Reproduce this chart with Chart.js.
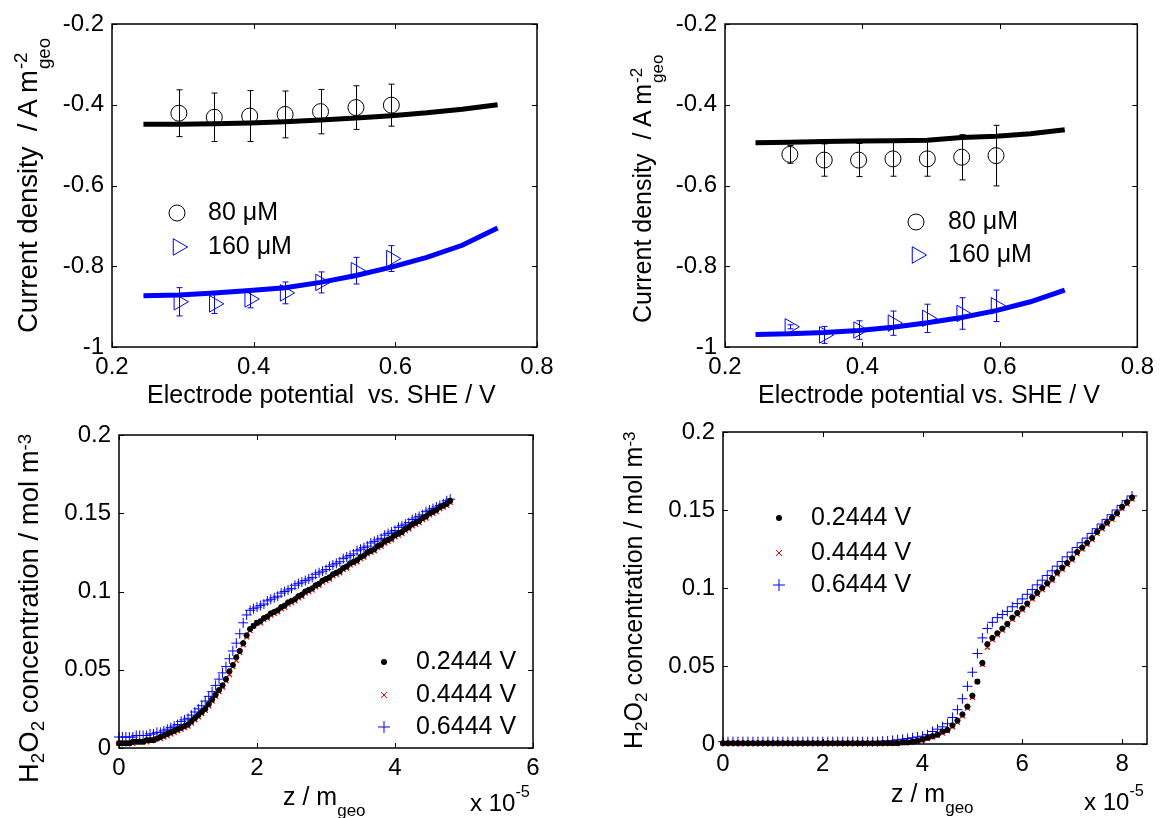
<!DOCTYPE html>
<html>
<head>
<meta charset="utf-8">
<script src="https://cdn.jsdelivr.net/npm/chart.js@4.4.1/dist/chart.umd.min.js"></script>
<style>
  body { margin: 0; background: #fff; width: 1160px; height: 818px; position: relative; overflow: hidden;
         font-family: "Liberation Sans", Arial, Helvetica, sans-serif; color: #000; }
  canvas { position: absolute; }
  .t { position: absolute; font-size: 25px; line-height: 1; white-space: nowrap; }
  .ty { transform-origin: 0 0; transform: rotate(-90deg); }
  .t sub { font-size: 0.68em; line-height: 0; vertical-align: -0.32em; }
  .t sup { font-size: 0.68em; line-height: 0; vertical-align: 0.4em; }
  .ss { position: relative; display: inline-block; width: 1.1em; height: 0; }
  .ss span { position: absolute; left: 1px; font-size: 0.68em; line-height: 1; }
  .ss .up { top: -1.35em; }
  .ss .dn { top: -0.12em; }
</style>
</head>
<body>
<canvas id="tl" width="580" height="400" style="left:0;top:0"></canvas>
<canvas id="tr" width="580" height="400" style="left:580px;top:0"></canvas>
<canvas id="bl" width="580" height="418" style="left:0;top:400px"></canvas>
<canvas id="br" width="580" height="418" style="left:580px;top:400px"></canvas>

<div class="t" style="left:147px;top:382px">Electrode potential&nbsp; vs. SHE / V</div>
<div class="t" style="left:758px;top:382px">Electrode potential vs. SHE / V</div>
<div class="t ty" style="left:14px;top:333px;font-size:27.5px">Current density&nbsp; / A m<span class="ss"><span class="up">-2</span><span class="dn">geo</span></span></div>
<div class="t ty" style="left:630px;top:323px">Current density&nbsp; / A m<span class="ss"><span class="up">-2</span><span class="dn">geo</span></span></div>
<div class="t ty" style="left:15px;top:783px;font-size:27.5px">H<sub>2</sub>O<sub>2</sub> concentration / mol m<sup>-3</sup></div>
<div class="t ty" style="left:621px;top:749px">H<sub>2</sub>O<sub>2</sub> concentration / mol m<sup>-3</sup></div>
<div class="t" style="left:283px;top:784px">z / m<sub style="vertical-align:-11px">geo</sub></div>
<div class="t" style="left:470px;top:791px;font-size:24px">x 10<sup style="vertical-align:14px">-5</sup></div>
<div class="t" style="left:891px;top:781px">z / m<sub style="vertical-align:-11px">geo</sub></div>
<div class="t" style="left:1084px;top:790px;font-size:24px">x 10<sup style="vertical-align:14px">-5</sup></div>

<script>
// ---- data ----
// electrode potentials (V vs. SHE)
const vExp  = [0.2944, 0.3444, 0.3944, 0.4444, 0.4944, 0.5444, 0.5944];
const vSimA = [0.2444, 0.2944, 0.3444, 0.3944, 0.4444, 0.4944, 0.5444, 0.5944, 0.6444, 0.6944, 0.7444];
const vSimB = [0.2444, 0.2944, 0.3444, 0.3944, 0.4444, 0.4944, 0.5444, 0.5944, 0.6444, 0.6944];

// top-left: current density (A m-2), measured + simulated
const tl80      = [-0.421, -0.431, -0.428, -0.424, -0.417, -0.407, -0.401];
const tl80Err   = [0.058, 0.060, 0.063, 0.058, 0.055, 0.054, 0.052];
const tl160     = [-0.888, -0.893, -0.881, -0.866, -0.840, -0.811, -0.781];
const tl160Err  = [0.035, 0.024, 0.022, 0.027, 0.026, 0.033, 0.032];
const tl80Sim   = [-0.448, -0.448, -0.447, -0.445, -0.442, -0.438, -0.433, -0.427, -0.420, -0.411, -0.400];
const tl160Sim  = [-0.873, -0.871, -0.866, -0.860, -0.853, -0.840, -0.823, -0.802, -0.778, -0.748, -0.705];

// top-right
const tr80      = [-0.523, -0.537, -0.537, -0.534, -0.534, -0.530, -0.526];
const tr80Err   = [0.022, 0.040, 0.041, 0.043, 0.043, 0.056, 0.075];
const tr160     = [-0.950, -0.970, -0.958, -0.941, -0.929, -0.917, -0.898];
const tr160Err  = [0.005, 0.021, 0.023, 0.030, 0.035, 0.039, 0.039];
const tr80Sim   = [-0.494, -0.493, -0.491, -0.490, -0.489, -0.488, -0.481, -0.478, -0.472, -0.462];
const tr160Sim  = [-0.969, -0.967, -0.964, -0.959, -0.951, -0.940, -0.927, -0.910, -0.888, -0.859];

// bottom-left: H2O2 concentration (mol m-3) vs z (x 1e-5 m)
const zBL = [0, 0.05, 0.1, 0.15, 0.2, 0.25, 0.3, 0.35, 0.4, 0.45,
             0.5, 0.55, 0.6, 0.65, 0.7, 0.75, 0.8, 0.85, 0.9, 0.95,
             1.0, 1.05, 1.1, 1.15, 1.2, 1.25, 1.3, 1.35, 1.4, 1.45,
             1.5, 1.55, 1.6, 1.65, 1.7, 1.75, 1.8, 1.85, 1.9, 1.95,
             2.0, 2.05, 2.1, 2.15, 2.2, 2.25, 2.3, 2.35, 2.4, 2.45,
             2.5, 2.55, 2.6, 2.65, 2.7, 2.75, 2.8, 2.85, 2.9, 2.95,
             3.0, 3.05, 3.1, 3.15, 3.2, 3.25, 3.3, 3.35, 3.4, 3.45,
             3.5, 3.55, 3.6, 3.65, 3.7, 3.75, 3.8, 3.85, 3.9, 3.95,
             4.0, 4.05, 4.1, 4.15, 4.2, 4.25, 4.3, 4.35, 4.4, 4.45,
             4.5, 4.55, 4.6, 4.65, 4.7, 4.75, 4.8];
const blV02 = [0.003, 0.003, 0.003, 0.003, 0.004, 0.004, 0.004, 0.004, 0.005, 0.005,
               0.005, 0.006, 0.007, 0.008, 0.009, 0.010, 0.011, 0.012, 0.013, 0.014,
               0.015, 0.017, 0.019, 0.021, 0.023, 0.025, 0.028, 0.031, 0.034, 0.037,
               0.040, 0.044, 0.049, 0.053, 0.058, 0.062, 0.067, 0.072, 0.076, 0.078,
               0.080, 0.081, 0.083, 0.084, 0.086, 0.087, 0.088, 0.090, 0.091, 0.093,
               0.094, 0.095, 0.097, 0.098, 0.100, 0.101, 0.102, 0.104, 0.105, 0.107,
               0.108, 0.109, 0.111, 0.112, 0.113, 0.115, 0.116, 0.118, 0.119, 0.120,
               0.122, 0.123, 0.125, 0.126, 0.127, 0.129, 0.130, 0.132, 0.133, 0.134,
               0.136, 0.137, 0.138, 0.140, 0.141, 0.143, 0.144, 0.145, 0.147, 0.148,
               0.150, 0.151, 0.152, 0.154, 0.155, 0.156, 0.158];
const blV04 = [0.003, 0.003, 0.003, 0.003, 0.003, 0.004, 0.004, 0.004, 0.004, 0.005,
               0.005, 0.006, 0.006, 0.007, 0.008, 0.009, 0.010, 0.011, 0.012, 0.013,
               0.014, 0.016, 0.018, 0.020, 0.022, 0.024, 0.027, 0.030, 0.033, 0.036,
               0.039, 0.043, 0.047, 0.052, 0.056, 0.061, 0.066, 0.071, 0.075, 0.078,
               0.080, 0.080, 0.082, 0.083, 0.085, 0.086, 0.087, 0.089, 0.090, 0.092,
               0.093, 0.094, 0.096, 0.097, 0.099, 0.100, 0.101, 0.103, 0.104, 0.106,
               0.107, 0.108, 0.110, 0.111, 0.112, 0.114, 0.115, 0.117, 0.118, 0.119,
               0.121, 0.122, 0.124, 0.125, 0.126, 0.128, 0.129, 0.131, 0.132, 0.133,
               0.135, 0.136, 0.137, 0.139, 0.140, 0.142, 0.143, 0.144, 0.146, 0.147,
               0.149, 0.150, 0.151, 0.153, 0.154, 0.155, 0.157];
const blV06 = [0.007, 0.007, 0.007, 0.007, 0.007, 0.008, 0.008, 0.008, 0.008, 0.009,
               0.009, 0.010, 0.010, 0.011, 0.012, 0.013, 0.014, 0.015, 0.017, 0.018,
               0.019, 0.021, 0.023, 0.025, 0.027, 0.030, 0.033, 0.036, 0.040, 0.044,
               0.048, 0.052, 0.057, 0.062, 0.067, 0.073, 0.080, 0.085, 0.088, 0.089,
               0.090, 0.091, 0.092, 0.094, 0.095, 0.096, 0.097, 0.099, 0.100, 0.101,
               0.102, 0.104, 0.105, 0.106, 0.107, 0.108, 0.109, 0.111, 0.112, 0.113,
               0.114, 0.116, 0.117, 0.118, 0.119, 0.121, 0.122, 0.123, 0.124, 0.126,
               0.127, 0.128, 0.129, 0.131, 0.132, 0.133, 0.134, 0.136, 0.137, 0.138,
               0.139, 0.141, 0.142, 0.143, 0.144, 0.146, 0.147, 0.148, 0.149, 0.151,
               0.152, 0.153, 0.154, 0.155, 0.156, 0.158, 0.159];

// bottom-right
const zBR = [0, 0.1, 0.2, 0.3, 0.4, 0.5, 0.6, 0.7, 0.8, 0.9, 1.0, 1.1, 1.2, 1.3, 1.4, 1.5, 1.6, 1.7, 1.8, 1.9,
             2.0, 2.1, 2.2, 2.3, 2.4, 2.5, 2.6, 2.7, 2.8, 2.9, 3.0, 3.1, 3.2, 3.3, 3.4, 3.5, 3.6, 3.7, 3.8, 3.9,
             4.0, 4.1, 4.2, 4.3, 4.4, 4.5, 4.6, 4.7, 4.8, 4.9, 5.0, 5.1, 5.2, 5.3, 5.4, 5.5, 5.6, 5.7, 5.8, 5.9,
             6.0, 6.1, 6.2, 6.3, 6.4, 6.5, 6.6, 6.7, 6.8, 6.9, 7.0, 7.1, 7.2, 7.3, 7.4, 7.5, 7.6, 7.7, 7.8, 7.9,
             8.0, 8.1, 8.2];
const brV02 = [0.0005, 0.0005, 0.0005, 0.0005, 0.0005, 0.0005, 0.0005, 0.0005, 0.0005, 0.0005, 0.0005, 0.0005,
               0.0005, 0.0005, 0.0005, 0.0005, 0.0005, 0.0005, 0.0005, 0.0005, 0.0005, 0.0005, 0.0005, 0.0005,
               0.0005, 0.0005, 0.0005, 0.0005, 0.0005, 0.0005, 0.0005, 0.0005, 0.0005, 0.0005, 0.0005, 0.0005,
               0.001, 0.001, 0.0015, 0.002, 0.003, 0.004, 0.005, 0.006, 0.008, 0.009,
               0.012, 0.015, 0.019, 0.024, 0.031, 0.040, 0.052, 0.064, 0.068, 0.071,
               0.074, 0.077, 0.081, 0.084, 0.087, 0.090, 0.094, 0.097, 0.100, 0.103,
               0.106, 0.110, 0.113, 0.116, 0.119, 0.123, 0.126, 0.129, 0.132, 0.136,
               0.139, 0.142, 0.145, 0.148, 0.152, 0.155, 0.158];
const brV04 = [0.0004, 0.0004, 0.0004, 0.0004, 0.0004, 0.0004, 0.0004, 0.0004, 0.0004, 0.0004, 0.0004, 0.0004,
               0.0004, 0.0004, 0.0004, 0.0004, 0.0004, 0.0004, 0.0004, 0.0004, 0.0004, 0.0004, 0.0004, 0.0004,
               0.0004, 0.0004, 0.0004, 0.0004, 0.0004, 0.0004, 0.0004, 0.0004, 0.0004, 0.0004, 0.0004, 0.0004,
               0.0008, 0.001, 0.0014, 0.0018, 0.0025, 0.0035, 0.0045, 0.0055, 0.007, 0.0085,
               0.011, 0.014, 0.018, 0.023, 0.030, 0.040, 0.051, 0.062, 0.067, 0.070,
               0.073, 0.076, 0.080, 0.083, 0.086, 0.089, 0.093, 0.096, 0.099, 0.102,
               0.105, 0.109, 0.112, 0.115, 0.118, 0.122, 0.125, 0.128, 0.131, 0.135,
               0.138, 0.141, 0.144, 0.147, 0.151, 0.154, 0.157];
const brV06 = [0.0015, 0.0015, 0.0015, 0.0015, 0.0015, 0.0015, 0.0015, 0.0015, 0.0015, 0.0015,
               0.0015, 0.0015, 0.0015, 0.0015, 0.0015, 0.0015, 0.0015, 0.0015, 0.0015, 0.0015,
               0.0015, 0.0015, 0.0015, 0.0015, 0.0015, 0.0015, 0.0015, 0.0015, 0.0015, 0.0015, 0.0015,
               0.0016, 0.0018, 0.002, 0.0023, 0.0027, 0.003, 0.0035, 0.004, 0.0045, 0.005,
               0.006, 0.008, 0.0095, 0.011, 0.013, 0.017, 0.022, 0.029, 0.037, 0.046,
               0.058, 0.068, 0.074, 0.078, 0.081, 0.083, 0.085, 0.088, 0.090, 0.093,
               0.096, 0.099, 0.102, 0.105, 0.108, 0.111, 0.114, 0.117, 0.120, 0.123,
               0.126, 0.129, 0.132, 0.135, 0.138, 0.141, 0.144, 0.147, 0.150, 0.153,
               0.156, 0.159];

// tick labels
const ticksV   = [0.2, 0.4, 0.6, 0.8];
const ticksJ   = [-1, -0.8, -0.6, -0.4, -0.2];
const ticksC   = [0, 0.05, 0.1, 0.15, 0.2];
const ticksZBL = [0, 2, 4, 6];
const ticksZBR = [0, 2, 4, 6, 8];

// ---- helpers ----
const FONT = '"Liberation Sans", Arial, Helvetica, sans-serif';
Chart.defaults.font.family = FONT;
const BLUE = '#0000ff';
const RED = '#ff0000';

const pts = (xs, ys) => xs.map((x, i) => ({ x: x, y: ys[i] }));

function axis(min, max, ticks, size, isY) {
    return {
        type: 'linear', min: min, max: max,
        afterBuildTicks: s => { s.ticks = ticks.map(v => ({ value: v })); },
        afterFit: s => { if (isY) s.width = size; else s.height = size; },
        grid: { display: false, drawTicks: false },
        border: { display: false },
        ticks: {
            color: '#000', font: { size: 24 }, padding: isY ? 8 : 6,
            maxRotation: 0, autoSkip: false,
            callback: v => String(+Number(v).toFixed(3))
        }
    };
}

// matlab style box with inward ticks on all sides
const axesBox = {
    id: 'axesBox',
    afterDraw(chart) {
        const { ctx, chartArea: a, scales: { x, y } } = chart;
        ctx.save();
        ctx.strokeStyle = '#000';
        ctx.lineWidth = 1.5;
        ctx.strokeRect(a.left, a.top, a.right - a.left, a.bottom - a.top);
        ctx.lineWidth = 1;
        ctx.beginPath();
        x.ticks.forEach(t => {
            const px = Math.round(x.getPixelForValue(t.value)) + 0.5;
            ctx.moveTo(px, a.bottom); ctx.lineTo(px, a.bottom - 5);
            ctx.moveTo(px, a.top); ctx.lineTo(px, a.top + 5);
        });
        y.ticks.forEach(t => {
            const py = Math.round(y.getPixelForValue(t.value)) + 0.5;
            ctx.moveTo(a.left, py); ctx.lineTo(a.left + 5, py);
            ctx.moveTo(a.right, py); ctx.lineTo(a.right - 5, py);
        });
        ctx.stroke();
        ctx.restore();
    }
};

const errorBars = {
    id: 'errorBars',
    afterDatasetsDraw(chart) {
        const ctx = chart.ctx, xs = chart.scales.x, ys = chart.scales.y;
        chart.data.datasets.forEach(ds => {
            if (!ds.errorBars) return;
            ctx.save();
            ctx.strokeStyle = ds.pointBorderColor;
            ctx.lineWidth = 1;
            ds.data.forEach((p, i) => {
                const e = ds.errorBars[i];
                const x = Math.round(xs.getPixelForValue(p.x)) + 0.5;
                const y1 = ys.getPixelForValue(p.y + e), y2 = ys.getPixelForValue(p.y - e);
                ctx.beginPath();
                ctx.moveTo(x, y1); ctx.lineTo(x, y2);
                ctx.moveTo(x - 3, y1); ctx.lineTo(x + 3, y1);
                ctx.moveTo(x - 3, y2); ctx.lineTo(x + 3, y2);
                ctx.stroke();
            });
            ctx.restore();
        });
    }
};

function drawMarker(ctx, style, x, y, r, color) {
    ctx.save();
    ctx.strokeStyle = color; ctx.fillStyle = color; ctx.lineWidth = 1;
    ctx.beginPath();
    if (style === 'circle') { ctx.arc(x, y, r, 0, Math.PI * 2); ctx.stroke(); }
    else if (style === 'tri') {
        ctx.moveTo(x + r, y); ctx.lineTo(x - r / 2, y - r * 0.866); ctx.lineTo(x - r / 2, y + r * 0.866);
        ctx.closePath(); ctx.stroke();
    }
    else if (style === 'dot') { ctx.arc(x, y, r, 0, Math.PI * 2); ctx.fill(); }
    else if (style === 'x') {
        ctx.moveTo(x - r, y - r); ctx.lineTo(x + r, y + r); ctx.moveTo(x - r, y + r); ctx.lineTo(x + r, y - r); ctx.stroke();
    }
    else if (style === 'plus') {
        ctx.moveTo(x - r, y); ctx.lineTo(x + r, y); ctx.moveTo(x, y - r); ctx.lineTo(x, y + r); ctx.stroke();
    }
    ctx.restore();
}

function makeLegend(items) {
    return {
        id: 'panelLegend',
        afterDatasetsDraw(chart) {
            const ctx = chart.ctx;
            items.forEach(it => {
                drawMarker(ctx, it.style, it.x, it.y, it.r, it.color);
                ctx.save();
                ctx.fillStyle = '#000';
                ctx.font = '25px ' + FONT;
                ctx.textBaseline = 'middle';
                ctx.fillText(it.text, it.tx, it.y);
                ctx.restore();
            });
        }
    };
}

function makePanel(id, datasets, xAx, yAx, padding, legendItems) {
    return new Chart(document.getElementById(id), {
        type: 'scatter',
        data: { datasets: datasets },
        options: {
            responsive: false, animation: false, devicePixelRatio: 1,
            layout: { padding: padding },
            plugins: { legend: { display: false }, tooltip: { enabled: false } },
            scales: { x: xAx, y: yAx }
        },
        plugins: [errorBars, axesBox, makeLegend(legendItems)]
    });
}

function simLine(xs, ys, color) {
    return { data: pts(xs, ys), showLine: true, borderColor: color, borderWidth: 5,
             pointRadius: 0, tension: 0, order: 0 };
}
function expCircles(xs, ys, err) {
    return { data: pts(xs, ys), pointStyle: 'circle', pointRadius: 8, pointBorderColor: '#000',
             pointBackgroundColor: 'rgba(0,0,0,0)', pointBorderWidth: 1, errorBars: err, order: 1 };
}
function expTriangles(xs, ys, err) {
    return { data: pts(xs, ys), pointStyle: 'triangle', pointRotation: 90, pointRadius: 9.5,
             pointBorderColor: BLUE, pointBackgroundColor: 'rgba(0,0,0,0)', pointBorderWidth: 1,
             errorBars: err, order: 1 };
}
function profile(xs, ys, style, r, color, lw, order) {
    return { data: pts(xs, ys), pointStyle: style, pointRadius: r, pointBorderColor: color,
             pointBackgroundColor: color, pointBorderWidth: lw, clip: false, order: order };
}

// ---- charts ----
makePanel('tl',
    [simLine(vSimA, tl80Sim, '#000'), simLine(vSimA, tl160Sim, BLUE),
     expCircles(vExp, tl80, tl80Err), expTriangles(vExp, tl160, tl160Err)],
    axis(0.2, 0.8, ticksV, 53, false), axis(-1, -0.2, ticksJ, 112, true),
    { left: 0, top: 24, right: 43, bottom: 0 },
    [{ style: 'circle', r: 8, color: '#000', x: 177, y: 213, tx: 208, text: '80 \u03bcM' },
     { style: 'tri', r: 9.5, color: BLUE, x: 178, y: 247, tx: 208, text: '160 \u03bcM' }]);

makePanel('tr',
    [simLine(vSimB, tr80Sim, '#000'), simLine(vSimB, tr160Sim, BLUE),
     expCircles(vExp, tr80, tr80Err), expTriangles(vExp, tr160, tr160Err)],
    axis(0.2, 0.8, ticksV, 53, false), axis(-1, -0.2, ticksJ, 145, true),
    { left: 0, top: 24, right: 18, bottom: 0 },
    [{ style: 'circle', r: 8, color: '#000', x: 336, y: 222, tx: 368, text: '80 \u03bcM' },
     { style: 'tri', r: 9.5, color: BLUE, x: 337, y: 255, tx: 368, text: '160 \u03bcM' }]);

makePanel('bl',
    [profile(zBL, blV06, 'cross', 5, BLUE, 1, 2), profile(zBL, blV04, 'crossRot', 3.5, RED, 1.3, 1),
     profile(zBL, blV02, 'circle', 2.6, '#000', 1, 0)],
    axis(0, 6, ticksZBL, 70, false), axis(0, 0.2, ticksC, 119, true),
    { left: 0, top: 35, right: 47, bottom: 0 },
    [{ style: 'dot', r: 3, color: '#000', x: 384, y: 262, tx: 416, text: '0.2444 V' },
     { style: 'x', r: 3, color: RED, x: 384, y: 295, tx: 416, text: '0.4444 V' },
     { style: 'plus', r: 6, color: BLUE, x: 384, y: 327, tx: 416, text: '0.6444 V' }]);

makePanel('br',
    [profile(zBR, brV06, 'cross', 5, BLUE, 1, 2), profile(zBR, brV04, 'crossRot', 3.5, RED, 1.3, 1),
     profile(zBR, brV02, 'circle', 2.6, '#000', 1, 0)],
    axis(0, 8.5, ticksZBR, 74, false), axis(0, 0.2, ticksC, 143, true),
    { left: 0, top: 32, right: 13, bottom: 0 },
    [{ style: 'dot', r: 3, color: '#000', x: 199, y: 118, tx: 231, text: '0.2444 V' },
     { style: 'x', r: 3, color: RED, x: 199, y: 153, tx: 231, text: '0.4444 V' },
     { style: 'plus', r: 6, color: BLUE, x: 199, y: 185, tx: 231, text: '0.6444 V' }]);
</script>
</body>
</html>
